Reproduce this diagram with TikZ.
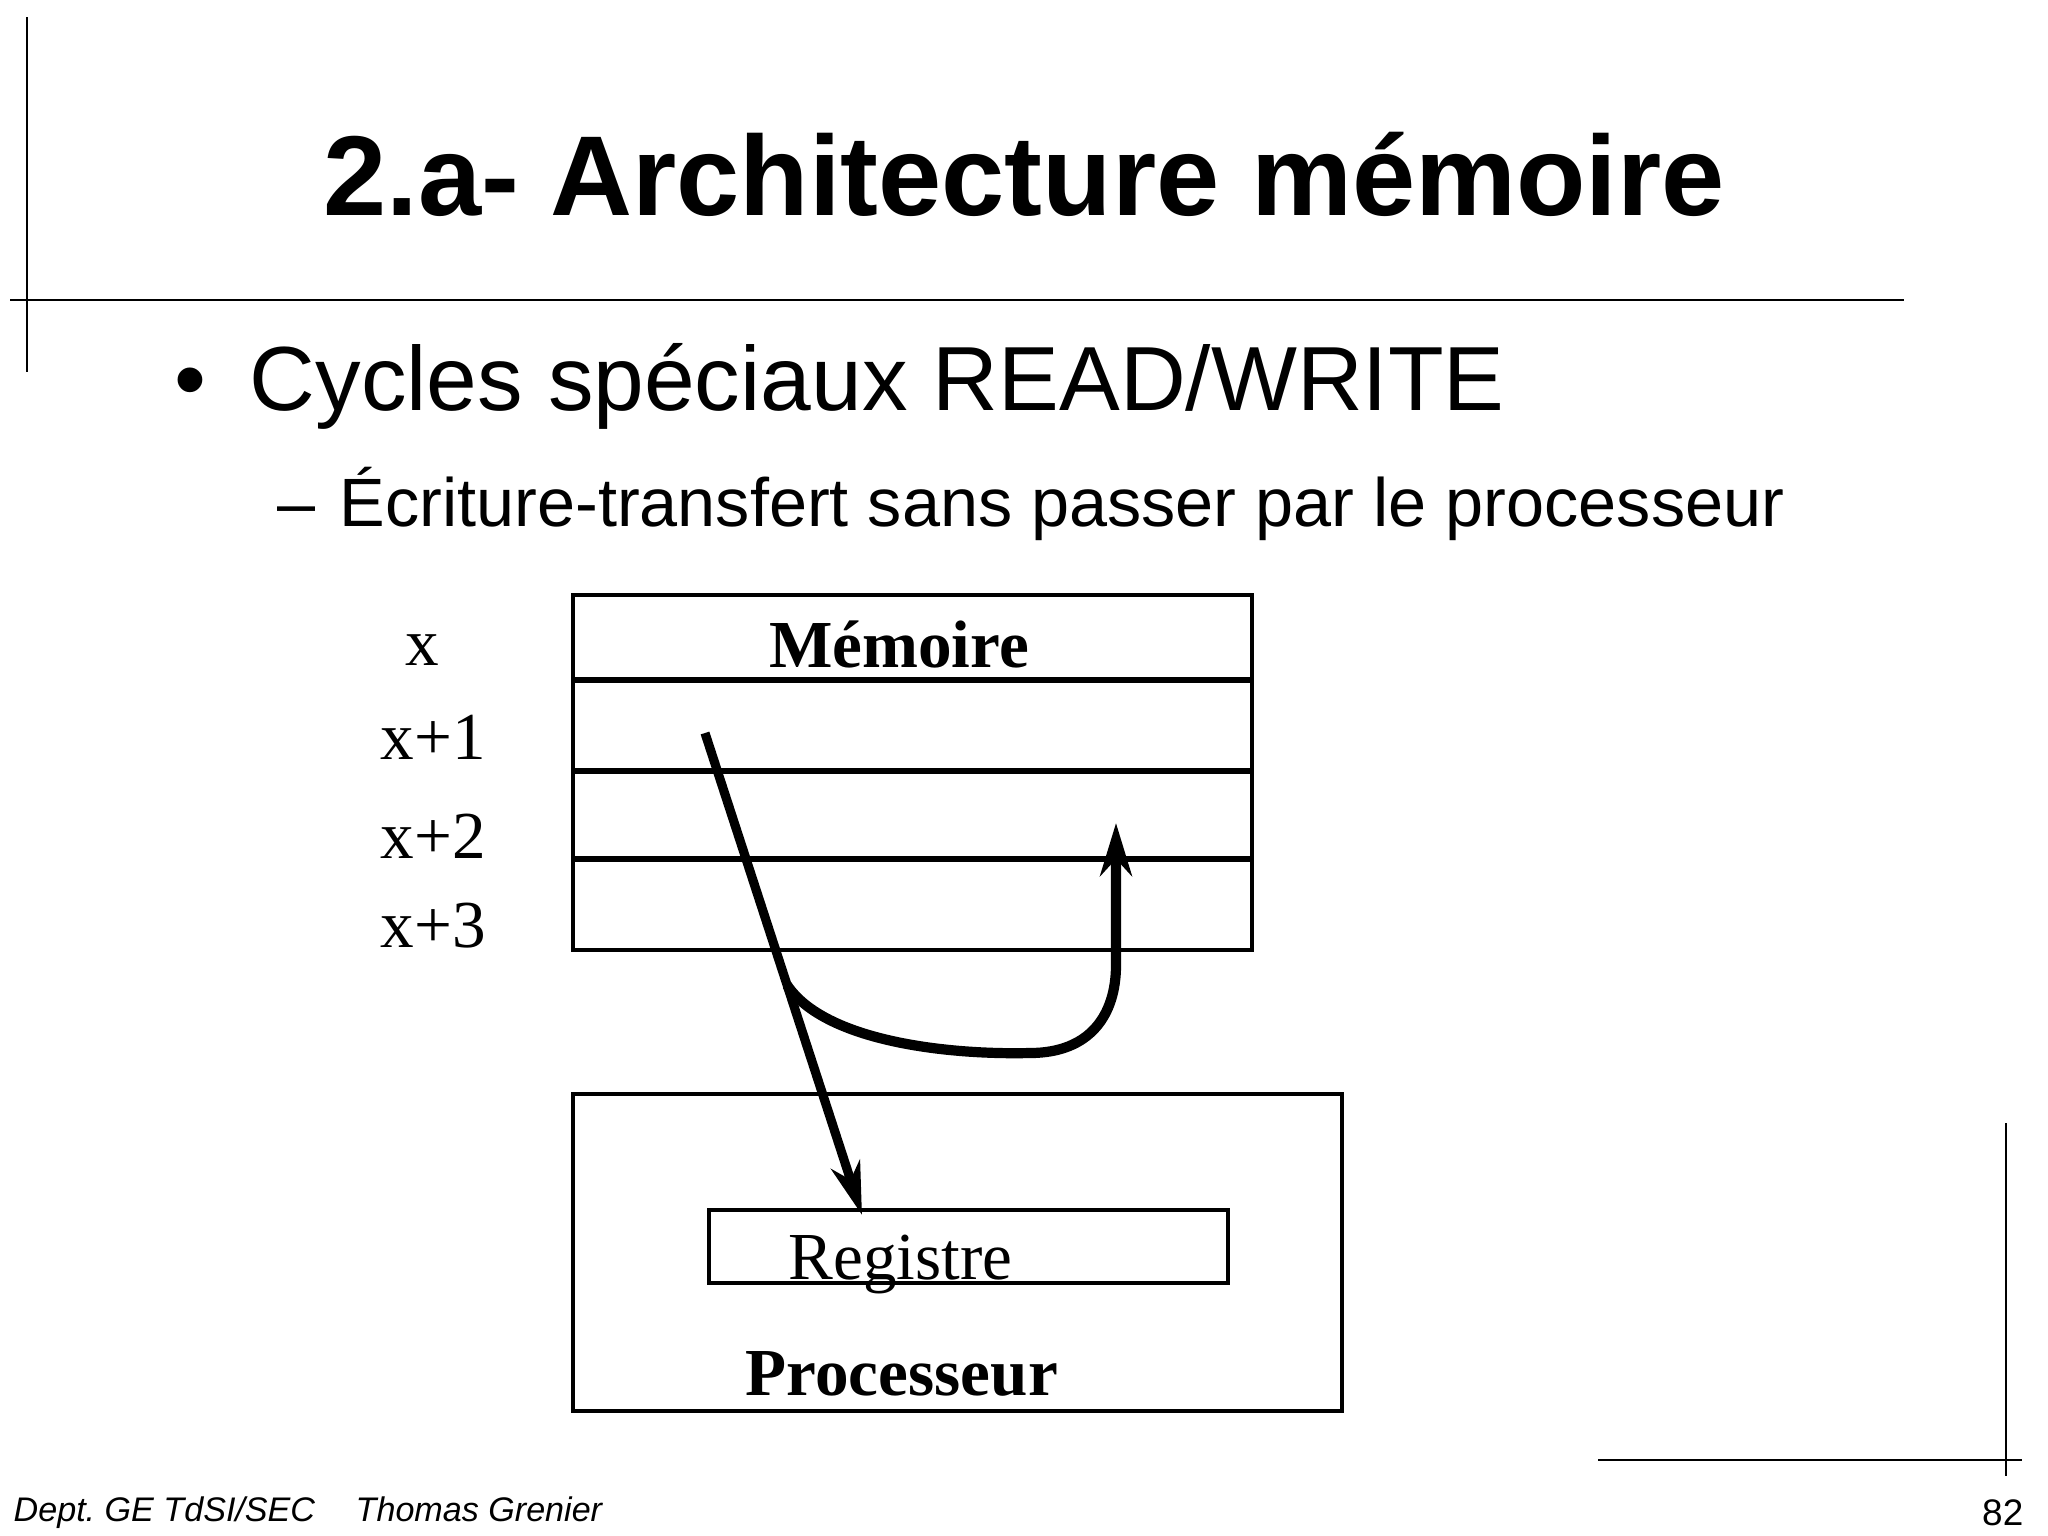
\documentclass[tikz,border=0pt]{standalone}
\usepackage{fontspec}
\setmainfont{Liberation Serif}
\newfontfamily\arialf{Liberation Sans}
\usetikzlibrary{arrows.meta}
\frenchspacing
\begin{document}
\begin{tikzpicture}[x=0.01cm,y=-0.01cm,
  frame/.style={line width=0.6pt},
  box/.style={draw, line width=1.05pt, inner sep=0, anchor=north west},
  rowline/.style={line width=1.6pt},
  tnr/.style={font=\fontsize{19.1}{22}\selectfont, inner sep=0, anchor=base west},
  tnrb/.style={font=\bfseries\fontsize{19.1}{22}\selectfont, inner sep=0},
  sans/.style={inner sep=0, anchor=base west},
  flow/.style={line width=2.6pt, -{Stealth[length=15pt, width=8.5pt, inset=4.5pt]}},
  flowc/.style={line width=2.9pt, -{Stealth[length=15pt, width=9pt, inset=4.8pt]}}
]
\useasboundingbox (0,0) rectangle (2048,1536);
\fill[white] (0,0) rectangle (2048,1536);

% slide frame marks
\draw[frame] (27,17) -- (27,372);
\draw[frame] (10,300) -- (1904,300);
\draw[frame] (2006,1123) -- (2006,1476);
\draw[frame] (1598,1460) -- (2022,1460);

% title and bullets
\node[inner sep=0, anchor=base, font=\arialf\bfseries\fontsize{32.3}{38}\selectfont] (title) at (1024,215) {2.a- Architecture mémoire};
\node[sans, anchor=base, font=\arialf\fontsize{25.9}{30}\selectfont] (bul) at (190,410) {•};
\node[sans, font=\arialf\fontsize{25.9}{30}\selectfont] (l1) at (249,410) {Cycles spéciaux READ/WRITE};
\node[sans, font=\arialf\fontsize{19.45}{23}\selectfont] (dash) at (277,526) {–};
\node[sans, font=\arialf\fontsize{19.45}{23}\selectfont] (l2) at (339,526) {Écriture-transfert sans passer par le processeur};

% memory
\node[box, minimum width=6.79cm, minimum height=3.55cm] (mem) at (571,593) {};
\draw[rowline] (571,680) -- (1250,680);
\draw[rowline] (571,771) -- (1250,771);
\draw[rowline] (571,859) -- (1250,859);
\node[tnrb, anchor=base] (memt) at (899,667) {Mémoire};
\node[tnr] (a0) at (405,665) {x};
\node[tnr] (a1) at (380,759) {x+1};
\node[tnr] (a2) at (380,858) {x+2};
\node[tnr] (a3) at (380,947) {x+3};

% processor
\node[box, minimum width=7.69cm, minimum height=3.17cm] (proc) at (571,1092) {};
\node[box, minimum width=5.19cm, minimum height=0.73cm] (reg) at (707,1208) {};
\node[tnr] (regt) at (788,1279) {Registre};
\node[tnrb, anchor=base west] (proct) at (745,1395) {Processeur};

% transfers
\coordinate (src) at (705,733);
\coordinate (dst) at (862,1215);
\coordinate (br) at (787,985);
\coordinate (tgt) at (1116,823);
\draw[flow] (src) -- (dst);
\draw[flowc] (br) .. controls (825,1042) and (950,1055) .. (1030,1053)
  .. controls (1090,1053) and (1116,1015) .. (1116,965) -- (tgt);

% footer
\node[sans, font=\arialf\itshape\fontsize{9.7}{12}\selectfont] (f1) at (13,1521) {Dept. GE TdSI/SEC};
\node[sans, font=\arialf\itshape\fontsize{9.7}{12}\selectfont] (f2) at (355,1521) {Thomas Grenier};
\node[inner sep=0, anchor=base east, font=\arialf\fontsize{10.5}{12}\selectfont] (pg) at (2024,1525) {82};
\end{tikzpicture}
\end{document}
